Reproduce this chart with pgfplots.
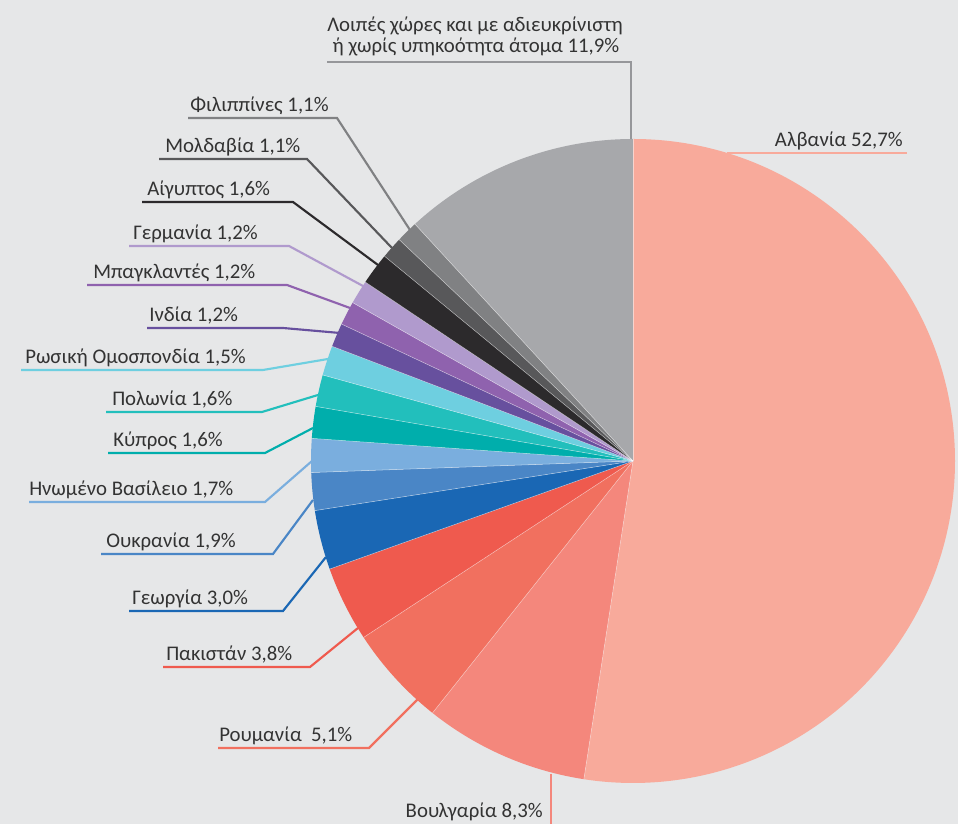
\documentclass[border=0pt]{standalone}
\usepackage{fontspec}
\setmainfont{Carlito}
\usepackage{pgfplots}
\usepackage{pgfplotstable}
\pgfplotsset{compat=1.18}

\definecolor{bg}{HTML}{E6E7E8}
\definecolor{txt}{HTML}{333333}
\definecolor{pc0}{HTML}{F8AA9B}
\definecolor{pc1}{HTML}{F4877C}
\definecolor{pc2}{HTML}{F1705F}
\definecolor{pc3}{HTML}{EF5A4E}
\definecolor{pc4}{HTML}{1A67B4}
\definecolor{pc5}{HTML}{4A86C6}
\definecolor{pc6}{HTML}{7AAEDE}
\definecolor{pc7}{HTML}{00AEAC}
\definecolor{pc8}{HTML}{22BFBC}
\definecolor{pc9}{HTML}{6ECFE0}
\definecolor{pc10}{HTML}{67509E}
\definecolor{pc11}{HTML}{8F62AE}
\definecolor{pc12}{HTML}{B09ACD}
\definecolor{pc13}{HTML}{2C2A2C}
\definecolor{pc14}{HTML}{58585A}
\definecolor{pc15}{HTML}{808183}
\definecolor{pc16}{HTML}{A7A8AB}

\pgfplotstableread{
name value
Albania 52.7
Bulgaria 8.3
Romania 5.1
Pakistan 3.8
Georgia 3.0
Ukraine 1.9
UK 1.7
Cyprus 1.6
Poland 1.6
Russia 1.5
India 1.2
Bangladesh 1.2
Germany 1.2
Egypt 1.6
Moldova 1.1
Philippines 1.1
Others 11.9
}\piedata

\pgfplotstablegetrowsof{\piedata}
\pgfmathtruncatemacro\nrows{\pgfplotsretval-1}
\gdef\pietotal{0}
\foreach \i in {0,...,\nrows}{%
  \pgfplotstablegetelem{\i}{value}\of\piedata
  \pgfmathparse{\pietotal+\pgfplotsretval}\xdef\pietotal{\pgfmathresult}%
}
\pgfmathparse{360/\pietotal}\xdef\piefac{\pgfmathresult}
\gdef\cum{0}
\foreach \i in {0,...,\nrows}{%
  \pgfplotstablegetelem{\i}{value}\of\piedata
  \pgfmathparse{90-\cum*\piefac}\expandafter\xdef\csname pieS\i\endcsname{\pgfmathresult}%
  \pgfmathparse{\cum+\pgfplotsretval}\xdef\cum{\pgfmathresult}%
  \pgfmathparse{90-\cum*\piefac}\expandafter\xdef\csname pieE\i\endcsname{\pgfmathresult}%
}

\newcommand\lbl{\fontsize{15.6}{17}\selectfont}

\begin{document}%
\begin{tikzpicture}
\begin{axis}[x=0.75pt,y=0.75pt,xmin=0,xmax=958,ymin=0,ymax=824,
  hide axis,clip=false,scale only axis,xtick=\empty,ytick=\empty]
\fill[bg] (axis cs:-20,-20) rectangle (axis cs:978,844);
\coordinate (BL) at (axis cs:0,0);
\coordinate (TR) at (axis cs:958,824);
\pgfplotsinvokeforeach{0,...,16}{%
  \edef\tmp{\noexpand\fill[pc#1] (axis cs:633,363) -- ++(\csname pieS#1\endcsname:241.5pt)
    arc[start angle=\csname pieS#1\endcsname, end angle=\csname pieE#1\endcsname, radius=241.5pt] -- cycle;}%
  \tmp
}
\pgfplotsinvokeforeach{0,...,16}{%
  \edef\tmp{\noexpand\draw[white, line width=0.4pt, draw opacity=0.5] (axis cs:633,363) -- ++(\csname pieS#1\endcsname:241.5pt);}%
  \tmp
}
% leader lines
\tikzset{ll/.style={line width=1.6pt}}
\draw[ll,pc0] (axis cs:727,671) -- (axis cs:907,671);
\draw[ll,pc1] (axis cs:551,50) -- (axis cs:551,-5);
\draw[ll,pc2] (axis cs:218,76) -- (axis cs:369,76) -- (axis cs:418,125);
\draw[ll,pc3] (axis cs:163,157) -- (axis cs:310,157) -- (axis cs:358,196);
\draw[ll,pc4] (axis cs:129,213) -- (axis cs:283,213) -- (axis cs:326,267);
\draw[ll,pc5] (axis cs:101,270) -- (axis cs:273,270) -- (axis cs:313,324);
\draw[ll,pc6] (axis cs:29,322) -- (axis cs:265,322) -- (axis cs:312,363);
\draw[ll,pc7] (axis cs:108,371) -- (axis cs:265,371) -- (axis cs:313,396);
\draw[ll,pc8] (axis cs:106,412) -- (axis cs:262,412) -- (axis cs:318,429);
\draw[ll,pc9] (axis cs:21,454) -- (axis cs:263,454) -- (axis cs:328,465);
\draw[ll,pc10] (axis cs:147,496) -- (axis cs:283,496) -- (axis cs:340,491);
\draw[ll,pc11] (axis cs:87,539) -- (axis cs:287,539) -- (axis cs:350,516);
\draw[ll,pc12] (axis cs:129,578) -- (axis cs:289,578) -- (axis cs:363,538);
\draw[ll,pc13] (axis cs:142,622) -- (axis cs:293,622) -- (axis cs:378,559);
\draw[ll,pc14] (axis cs:159,665) -- (axis cs:307,665) -- (axis cs:392,576);
\draw[ll,pc15] (axis cs:188,706) -- (axis cs:337,706) -- (axis cs:410,594);
\draw[ll,pc16!90!black] (axis cs:327,762) -- (axis cs:631,762) -- (axis cs:631,685);
% labels
\tikzset{lb/.style={inner sep=0pt, text=txt, font=\lbl}}
\node[lb,anchor=base east] at (axis cs:903,677) {Αλβανία 52,7\%};
\node[lb,anchor=base east] at (axis cs:543,6) {Βουλγαρία 8,3\%};
\node[lb,anchor=base west] at (axis cs:219,82) {Ρουμανία~ 5,1\%};
\node[lb,anchor=base west] at (axis cs:166,163) {Πακιστάν 3,8\%};
\node[lb,anchor=base west] at (axis cs:132,219) {Γεωργία 3,0\%};
\node[lb,anchor=base west] at (axis cs:106,276) {Ουκρανία 1,9\%};
\node[lb,anchor=base west] at (axis cs:29,328) {Ηνωμένο Βασίλειο 1,7\%};
\node[lb,anchor=base west] at (axis cs:113,377) {Κύπρος 1,6\%};
\node[lb,anchor=base west] at (axis cs:112,418) {Πολωνία 1,6\%};
\node[lb,anchor=base west] at (axis cs:25,460) {Ρωσική Ομοσπονδία 1,5\%};
\node[lb,anchor=base west] at (axis cs:149,502) {Ινδία 1,2\%};
\node[lb,anchor=base west] at (axis cs:93,545) {Μπαγκλαντές 1,2\%};
\node[lb,anchor=base west] at (axis cs:133,584) {Γερμανία 1,2\%};
\node[lb,anchor=base west] at (axis cs:147,628) {Αίγυπτος 1,6\%};
\node[lb,anchor=base west] at (axis cs:165,671) {Μολδαβία 1,1\%};
\node[lb,anchor=base west] at (axis cs:190,712) {Φιλιππίνες 1,1\%};
\node[lb,anchor=base] at (axis cs:475,792) {Λοιπές χώρες και με αδιευκρίνιστη};
\node[lb,anchor=base] at (axis cs:476,771) {ή χωρίς υπηκοότητα άτομα 11,9\%};
\end{axis}
\pgfresetboundingbox
\useasboundingbox (BL) rectangle (TR);
\end{tikzpicture}%
\end{document}
